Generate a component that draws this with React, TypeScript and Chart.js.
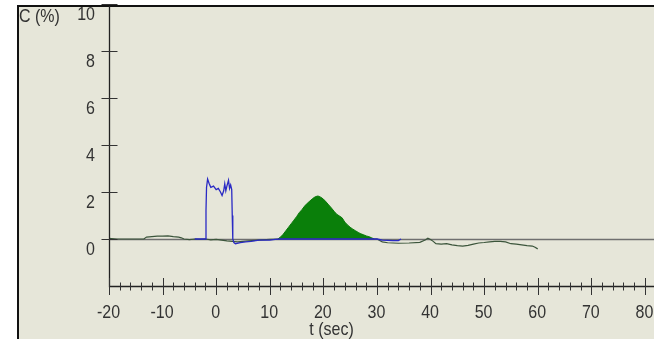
import React, { useEffect, useRef } from "react";
import { Chart, registerables } from "chart.js";

Chart.register(...registerables);

// ---- data (t in seconds, C in %) ----
const blueT = [-4, -2.0, -1.9, -1.8, -1.6, -1.3, -1.0, -0.5, 0, 0.4, 0.8, 1.1, 1.4, 1.6, 1.8, 2.0, 2.3, 2.5, 2.7, 2.9, 3.0, 3.1, 3.3, 3.6, 4.5, 5.5, 6.5, 8, 10, 11, 12, 20, 30, 31, 33, 34, 34.5];
const blueC = [0, 0, 1.2, 2.2, 2.55, 2.35, 2.2, 2.25, 2.1, 2.15, 2.0, 1.85, 2.05, 2.35, 2.05, 2.25, 2.5, 2.15, 2.3, 2.1, 1.0, 0, -0.15, -0.2, -0.15, -0.12, -0.1, -0.05, -0.05, -0.02, 0, 0, 0, -0.05, -0.07, -0.07, 0];

const areaT = [11.5, 12, 12.5, 13, 13.5, 14, 14.5, 15, 15.5, 16, 16.5, 17, 17.5, 18, 18.5, 19, 19.5, 20, 20.5, 21, 21.5, 22, 22.5, 23, 23.5, 24, 24.5, 25, 25.5, 26, 26.5, 27, 27.5, 28, 28.5, 29, 29.5];
const areaC = [0, 0.08, 0.2, 0.35, 0.5, 0.65, 0.8, 0.95, 1.12, 1.25, 1.4, 1.52, 1.62, 1.72, 1.8, 1.83, 1.78, 1.7, 1.58, 1.45, 1.32, 1.18, 1.05, 0.98, 0.9, 0.72, 0.6, 0.5, 0.42, 0.35, 0.28, 0.22, 0.18, 0.13, 0.1, 0.05, 0];

const greenT = [-20, -18.5, -13.5, -13, -12, -11, -10, -9, -8, -7, -6.5, -6, -5, -4, -3, -2, -1, 0, 1, 2, 3, 4, 5, 6, 8, 10, 12, 30, 31, 32, 34, 36, 38, 39, 39.5, 40, 40.5, 41, 42, 43, 44, 45, 46, 47, 48, 49, 50, 51, 52, 53, 54, 55, 56, 57, 58, 59, 59.5, 60];
const greenC = [0.03, 0, 0, 0.08, 0.1, 0.12, 0.12, 0.13, 0.1, 0.08, 0.05, 0, -0.03, 0, -0.02, 0, -0.04, -0.02, -0.05, -0.08, -0.1, -0.12, -0.1, -0.08, -0.05, -0.02, 0, 0, -0.12, -0.16, -0.18, -0.17, -0.14, -0.04, 0.03, -0.02, -0.1, -0.2, -0.22, -0.2, -0.25, -0.28, -0.3, -0.27, -0.22, -0.17, -0.15, -0.12, -0.1, -0.1, -0.12, -0.2, -0.22, -0.25, -0.28, -0.3, -0.35, -0.42];

const yTicks = [0, 2, 4, 6, 8, 10];
const xTicks = [-20, -10, 0, 10, 20, 30, 40, 50, 60, 70, 80];
const yTitle = "C (%)";
const xTitle = "t (sec)";

const pts = (t: number[], c: number[]) => t.map((v, i) => ({ x: v, y: c[i] }));

const FONT = '16px "Liberation Sans", Arial, sans-serif';

function drawText(ctx: CanvasRenderingContext2D, s: string, x: number, y: number, align: CanvasTextAlign) {
  ctx.save();
  ctx.translate(x, y);
  ctx.scale(1, 1.12);
  ctx.font = FONT;
  ctx.fillStyle = "#333333";
  ctx.textAlign = align;
  ctx.textBaseline = "middle";
  ctx.fillText(s, 0, 0);
  ctx.restore();
}

const framePlugin = {
  id: "frame",
  beforeDraw(chart: any) {
    const { ctx, width, height } = chart;
    ctx.save();
    ctx.fillStyle = "#ffffff";
    ctx.fillRect(0, 0, width, height);
    ctx.fillStyle = "#e6e6d9";
    ctx.fillRect(17, 5, width - 17, height - 5);
    ctx.strokeStyle = "#111111";
    ctx.lineWidth = 2;
    ctx.beginPath();
    ctx.moveTo(18, height);
    ctx.lineTo(18, 6);
    ctx.lineTo(width, 6);
    ctx.stroke();
    ctx.restore();
  },
  beforeDatasetsDraw(chart: any) {
    const { ctx, chartArea } = chart;
    const y = chart.scales.y;
    const y0 = Math.round(y.getPixelForValue(0)) + 0.5;
    ctx.save();
    ctx.strokeStyle = "#6f6f6f";
    ctx.lineWidth = 1.5;
    ctx.beginPath();
    ctx.moveTo(chartArea.left, y0);
    ctx.lineTo(chartArea.right, y0);
    ctx.stroke();
    ctx.restore();
  },
  afterDatasetsDraw(chart: any) {
    const { ctx, chartArea } = chart;
    const xs = chart.scales.x;
    const ys = chart.scales.y;
    const ax = Math.round(chartArea.left) + 0.5;
    const ay = Math.round(ys.getPixelForValue(-2)) + 0.5;
    ctx.save();
    ctx.strokeStyle = "#222222";
    ctx.lineWidth = 1.3;
    ctx.beginPath();
    ctx.moveTo(ax, 6);
    ctx.lineTo(ax, ay);
    ctx.lineTo(chartArea.right, ay);
    ctx.stroke();
    // y ticks
    ctx.strokeStyle = "#333333";
    ctx.lineWidth = 1;
    yTicks.forEach((v) => {
      const py = Math.round(ys.getPixelForValue(v)) + 0.5;
      ctx.beginPath();
      ctx.moveTo(ax - 8, py);
      ctx.lineTo(ax + 8, py);
      ctx.stroke();
      drawText(ctx, String(v), 95, py + 10.5, "right");
    });
    // x ticks (major every 10, minor every 2)
    for (let v = -20; v <= 80; v += 2) {
      const px = Math.round(xs.getPixelForValue(v)) + 0.5;
      const major = v % 10 === 0;
      const h = major ? 8.5 : 4;
      ctx.beginPath();
      ctx.moveTo(px, ay - h);
      ctx.lineTo(px, ay + h);
      ctx.stroke();
    }
    xTicks.forEach((v) => {
      const px = xs.getPixelForValue(v);
      drawText(ctx, String(v), px - 0.5, 313.5, "center");
    });
    drawText(ctx, xTitle, 331.5, 330.5, "center");
    drawText(ctx, yTitle, 19, 17, "left");
    ctx.restore();
  },
};

export default function App() {
  const ref = useRef<HTMLCanvasElement>(null);
  useEffect(() => {
    const canvas = ref.current!;
    const chart = new Chart(canvas, {
      type: "line",
      data: {
        datasets: [
          {
            label: "area",
            data: pts(areaT, areaC),
            borderColor: "#0a7a0a",
            backgroundColor: "#0a7f0a",
            fill: "origin",
            borderWidth: 1,
            pointRadius: 0,
            tension: 0,
            order: 3,
          },
          {
            label: "green",
            data: pts(greenT, greenC),
            borderColor: "#3b553b",
            borderWidth: 1.2,
            fill: false,
            pointRadius: 0,
            tension: 0,
            order: 2,
          },
          {
            label: "blue",
            data: pts(blueT, blueC),
            borderColor: "#2a2ac4",
            borderWidth: 1.3,
            fill: false,
            pointRadius: 0,
            tension: 0,
            order: 1,
          },
        ],
      },
      options: {
        animation: false,
        responsive: false,
        maintainAspectRatio: false,
        layout: { padding: { left: 109, right: 0, top: 4, bottom: 53 } },
        plugins: { legend: { display: false }, tooltip: { enabled: false } },
        scales: {
          x: { type: "linear", min: -20, max: 81.7, display: false },
          y: { type: "linear", min: -2, max: 10, display: false },
        },
      },
      plugins: [framePlugin],
    });
    return () => chart.destroy();
  }, []);
  return (
    <div style={{ position: "fixed", left: 0, top: 0, width: 654, height: 339 }}>
      <canvas ref={ref} width={654} height={339} style={{ display: "block" }} />
    </div>
  );
}
